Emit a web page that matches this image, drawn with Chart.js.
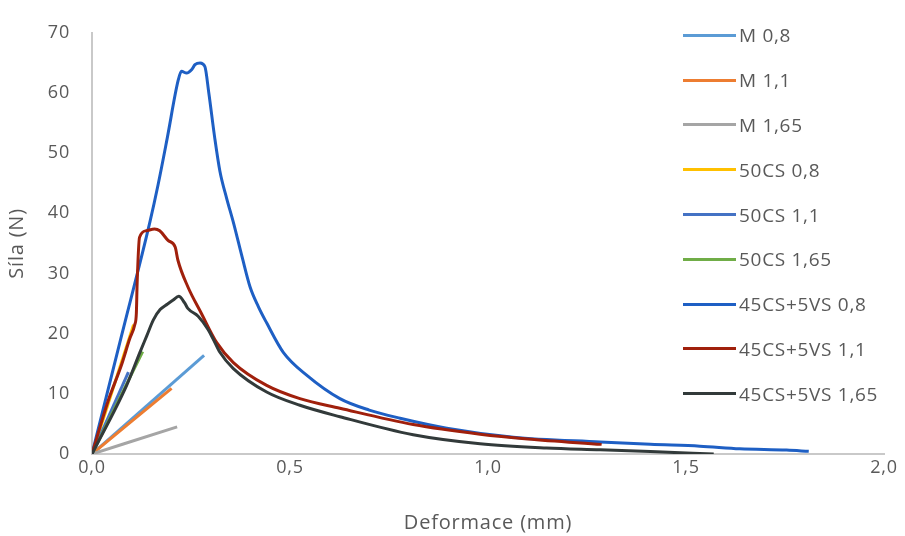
<!DOCTYPE html>
<html>
<head>
<meta charset="utf-8">
<script src="https://cdn.jsdelivr.net/npm/chart.js@4/dist/chart.umd.min.js"></script>
<style>
  html, body { margin: 0; padding: 0; background: #ffffff; }
  #wrap { position: relative; width: 905px; height: 536px; }
  #legend { position: absolute; left: 683px; top: 13px; font-family: "Open Sans", sans-serif; font-size: 19px; letter-spacing: 0.7px; color: #595959; }
  .item { height: 44.8px; display: flex; align-items: center; white-space: nowrap; }
  .sw { width: 53px; height: 3px; margin-right: 3px; }
</style>
</head>
<body>
<div id="wrap">
  <canvas id="c" width="905" height="536"></canvas>
  <div id="legend"></div>
</div>
<script>
// ---- data (x = deformation in mm, y = force in N) ----
const seriesNames = ["M 0,8", "M 1,1", "M 1,65", "50CS 0,8", "50CS 1,1", "50CS 1,65", "45CS+5VS 0,8", "45CS+5VS 1,1", "45CS+5VS 1,65"];
const seriesColors = ["#5B9BD5", "#ED7D31", "#A5A5A5", "#FFC000", "#4472C4", "#70AD47", "#1E5FC4", "#A0200C", "#323A3A"];

const m08X = [0, 0.283];
const m08Y = [0, 16.4];
const m11X = [0, 0.201];
const m11Y = [0, 10.9];
const m165X = [0, 0.215];
const m165Y = [0, 4.5];
const cs08X = [0, 0.105];
const cs08Y = [0, 21.5];
const cs11X = [0, 0.092];
const cs11Y = [0, 13.6];
const cs165X = [0, 0.128];
const cs165Y = [0, 17.0];

const vs08X = [0, 0.074, 0.146, 0.167, 0.19, 0.218, 0.226, 0.239, 0.252, 0.26, 0.273, 0.285, 0.295, 0.31, 0.323, 0.34, 0.357, 0.38, 0.399, 0.42, 0.441, 0.483, 0.542, 0.626, 0.7, 0.778, 0.896, 1.064, 1.283, 1.41, 1.535, 1.636, 1.754, 1.81];
const vs08Y = [0, 19.5, 38.5, 44.8, 52.5, 62.2, 63.6, 63.3, 63.9, 64.7, 65.0, 64.4, 60.0, 52.5, 47.0, 42.5, 38.5, 32.5, 27.8, 24.5, 21.8, 16.9, 13.1, 9.2, 7.3, 5.95, 4.3, 2.8, 2.0, 1.6, 1.3, 0.87, 0.65, 0.44];

const vs11X = [0, 0.04, 0.074, 0.095, 0.108, 0.112, 0.114, 0.12, 0.137, 0.158, 0.171, 0.192, 0.21, 0.217, 0.242, 0.276, 0.315, 0.357, 0.441, 0.525, 0.626, 0.811, 0.98, 1.1, 1.287];
const vs11Y = [0, 8.7, 14.7, 19.1, 21.5, 23.4, 28.4, 36.0, 37.1, 37.4, 37.1, 35.5, 34.4, 32.2, 27.8, 23.4, 18.5, 15.2, 11.4, 9.2, 7.6, 4.9, 3.3, 2.5, 1.6];

const vs165X = [0, 0.0875, 0.121, 0.138, 0.155, 0.172, 0.19, 0.205, 0.219, 0.234, 0.242, 0.268, 0.293, 0.306, 0.323, 0.357, 0.441, 0.525, 0.626, 0.811, 0.98, 1.148, 1.283, 1.41, 1.57];
const vs165Y = [0, 11.4, 16.9, 19.6, 22.3, 24.0, 24.9, 25.6, 26.2, 25.1, 24.2, 22.9, 20.7, 19.1, 16.9, 14.2, 10.3, 8.1, 6.2, 3.2, 1.7, 1.0, 0.7, 0.4, 0.0];

const xTicks = [0, 0.5, 1.0, 1.5, 2.0];
const yTicks = [0, 10, 20, 30, 40, 50, 60, 70];

const seriesX = [m08X, m11X, m165X, cs08X, cs11X, cs165X, vs08X, vs11X, vs165X];
const seriesY = [m08Y, m11Y, m165Y, cs08Y, cs11Y, cs165Y, vs08Y, vs11Y, vs165Y];

const datasets = seriesNames.map((name, i) => ({
  label: name,
  data: seriesX[i].map((x, k) => ({ x: x, y: seriesY[i][k] })),
  borderColor: seriesColors[i],
  backgroundColor: seriesColors[i],
  borderWidth: 3,
  pointRadius: 0,
  showLine: true,
  fill: false,
  cubicInterpolationMode: 'monotone',
  order: seriesNames.length - i
}));

const tickFont = { family: "Open Sans", size: 18 };
const titleFont = { family: "Open Sans", size: 20 };
const txt = "#595959";

const spacing = {
  id: 'spacing',
  beforeDraw(chart) { chart.ctx.letterSpacing = '0.8px'; }
};

new Chart(document.getElementById('c'), {
  type: 'scatter',
  data: { datasets: datasets },
  plugins: [spacing],
  options: {
    responsive: false,
    animation: false,
    layout: { padding: { top: 26, right: 21, left: 0, bottom: 0 } },
    plugins: { legend: { display: false }, tooltip: { enabled: false } },
    scales: {
      x: {
        type: 'linear', min: 0, max: 2,
        afterBuildTicks: s => { s.ticks = xTicks.map(v => ({ value: v })); },
        afterFit: s => { s.height = 82; },
        grid: { display: false, drawTicks: false },
        border: { display: true, color: "#C9C9C9", width: 2 },
        ticks: { color: txt, font: tickFont, padding: 3, maxRotation: 0,
                 callback: v => v.toFixed(1).replace('.', ',') },
        title: { display: true, text: "Deformace (mm)", color: txt, font: titleFont, padding: { top: 4, bottom: 1 } }
      },
      y: {
        type: 'linear', min: 0, max: 70,
        afterBuildTicks: s => { s.ticks = yTicks.map(v => ({ value: v })); },
        afterFit: s => { s.width = 92; },
        grid: { display: false, drawTicks: false },
        border: { display: true, color: "#C9C9C9", width: 2 },
        ticks: { color: txt, font: tickFont, padding: 22 },
        title: { display: true, text: "Síla (N)", color: txt, font: titleFont, padding: { top: 5, bottom: 4 } }
      }
    }
  }
});

// HTML legend (real text)
const lg = document.getElementById('legend');
seriesNames.forEach((name, i) => {
  const row = document.createElement('div');
  row.className = 'item';
  const sw = document.createElement('div');
  sw.className = 'sw';
  sw.style.background = seriesColors[i];
  const t = document.createElement('span');
  t.textContent = name;
  row.appendChild(sw); row.appendChild(t);
  lg.appendChild(row);
});
</script>
</body>
</html>
